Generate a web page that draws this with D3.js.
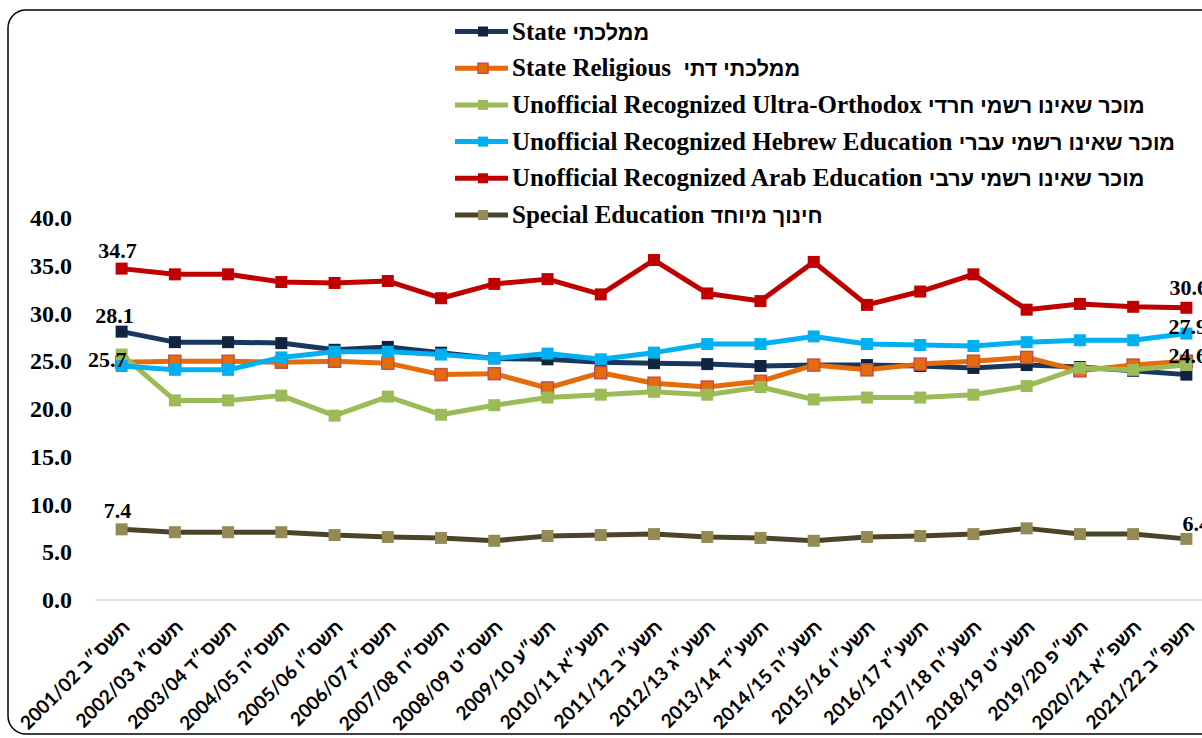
<!DOCTYPE html>
<html><head><meta charset="utf-8">
<script src="https://cdn.jsdelivr.net/npm/d3@7/dist/d3.min.js"></script>
<style>body{margin:0;background:#fff}svg{display:block}</style>
</head><body>
<svg id="c" width="1202" height="738"></svg>
<script>
const categories = ["2001/02 תשס״ב","2002/03 תשס״ג","2003/04 תשס״ד","2004/05 תשס״ה","2005/06 תשס״ו","2006/07 תשס״ז","2007/08 תשס״ח","2008/09 תשס״ט","2009/10 תש״ע","2010/11 תשע״א","2011/12 תשע״ב","2012/13 תשע״ג","2013/14 תשע״ד","2014/15 תשע״ה","2015/16 תשע״ו","2016/17 תשע״ז","2017/18 תשע״ח","2018/19  תשע״ט","2019/20 תש״פ","2020/21 תשפ״א","2021/22 תשפ״ב"];
const state = [28.1,27.0,27.0,26.9,26.2,26.5,25.9,25.3,25.2,24.9,24.8,24.7,24.5,24.6,24.6,24.5,24.3,24.6,24.4,24.0,23.6];
const stateReligious = [24.9,25.0,25.0,24.9,25.0,24.8,23.6,23.7,22.2,23.8,22.7,22.3,22.9,24.6,24.1,24.7,25.0,25.4,24.0,24.6,25.0];
const ultraOrthodox = [25.7,20.9,20.9,21.4,19.3,21.3,19.4,20.4,21.2,21.5,21.8,21.5,22.3,21.0,21.2,21.2,21.5,22.4,24.3,24.1,24.6];
const hebrewEdu = [24.5,24.1,24.1,25.4,26.0,26.0,25.7,25.3,25.8,25.2,25.9,26.8,26.8,27.6,26.8,26.7,26.6,27.0,27.2,27.2,27.9];
const arabEdu = [34.7,34.1,34.1,33.3,33.2,33.4,31.6,33.1,33.6,32.0,35.6,32.1,31.3,35.4,30.9,32.3,34.1,30.4,31.0,30.7,30.6];
const specialEdu = [7.4,7.1,7.1,7.1,6.8,6.6,6.5,6.2,6.7,6.8,6.9,6.6,6.5,6.2,6.6,6.7,6.9,7.5,6.9,6.9,6.4];
const yTicks = [0,5,10,15,20,25,30,35,40];
const legendEn = ["State","State Religious ","Unofficial Recognized Ultra-Orthodox","Unofficial Recognized Hebrew Education","Unofficial Recognized Arab Education","Special Education"];
const legendHe = ["ממלכתי","ממלכתי דתי","מוכר שאינו רשמי חרדי","מוכר שאינו רשמי עברי","מוכר שאינו רשמי ערבי","חינוך מיוחד"];

const series = [
  {values: state, line:"#17375e", fill:"#0f243e", stroke:"#0f243e"},
  {values: stateReligious, line:"#e46c0a", fill:"#e46c0a", stroke:"#c0504d"},
  {values: ultraOrthodox, line:"#9bbb59", fill:"#9bbb59", stroke:"#9bbb59"},
  {values: hebrewEdu, line:"#00b0f0", fill:"#00b0f0", stroke:"#00b0f0"},
  {values: arabEdu, line:"#c00000", fill:"#c00000", stroke:"#c00000"},
  {values: specialEdu, line:"#4a452a", fill:"#948a54", stroke:"#948a54"}
];
// data labels: [series index, point index, dx, dy, anchor]
const dataLabels = [[4,0,-4,-11,"middle"],[0,0,-7,-9,"middle"],[2,0,5,12,"end"],[5,0,-4,-11,"middle"],
                    [4,20,-17,-13,"start"],[3,20,-18,0,"start"],[2,20,-18,-2,"start"],[5,20,-4,-8,"start"]];

const svg = d3.select("#c");
const serif = "'Liberation Serif','Times New Roman',serif";
const sans = "'Liberation Sans',Arial,sans-serif";

svg.append("rect").attr("x",8).attr("y",10).attr("width",1220).attr("height",724)
  .attr("rx",18).attr("fill","none").attr("stroke","#000").attr("stroke-width",1.5);

const x = d3.scalePoint().domain(categories).range([95,1213]).padding(0.5);
const y = d3.scaleLinear().domain([0,40]).range([600,218]);

// zero gridline
svg.append("line").attr("x1",95).attr("x2",1213).attr("y1",y(0)).attr("y2",y(0))
  .attr("stroke","#d9d9d9").attr("stroke-width",1.5);

// y axis labels
const yAxis = d3.axisLeft(y).tickValues(yTicks).tickFormat(d3.format(".1f")).tickSize(0).tickPadding(0);
const yg = svg.append("g").attr("transform","translate(72,0)").call(yAxis);
yg.select(".domain").remove();
yg.selectAll("text").attr("font-family",serif).attr("font-weight","bold").attr("font-size",24).attr("fill","#000");

// x axis labels
const xAxis = d3.axisBottom(x).tickSize(0).tickPadding(0);
const xg = svg.append("g").attr("transform","translate(0,628)").call(xAxis);
xg.select(".domain").remove();
xg.selectAll("text").attr("font-family","Lato,'Liberation Sans',sans-serif").attr("font-weight","bold")
  .attr("font-size",19).attr("fill","#000").attr("text-anchor","end")
  .attr("dy",0).attr("y",0).attr("x",0)
  .attr("transform","translate(9,0) rotate(-45)");

const line = d3.line().x((d,i)=>x(categories[i])).y(d=>y(d));
const lg = svg.append("g");
series.forEach(s=>{
  const g = lg.append("g");
  g.append("path").datum(s.values).attr("d",line).attr("fill","none")
    .attr("stroke",s.line).attr("stroke-width",5).attr("stroke-linejoin","round");
  g.selectAll("rect").data(s.values).join("rect")
    .attr("x",(d,i)=>x(categories[i])-6).attr("y",d=>y(d)-6)
    .attr("width",12).attr("height",12).attr("fill",s.fill)
    .attr("stroke",s.stroke).attr("stroke-width",s.stroke===s.fill?0:1.5);
});

// data labels
svg.append("g").selectAll("text").data(dataLabels).join("text")
  .attr("x",d=>x(categories[d[1]])+d[2])
  .attr("y",d=>y(series[d[0]].values[d[1]])+d[3])
  .attr("text-anchor",d=>d[4])
  .attr("font-family",serif).attr("font-weight","bold").attr("font-size",22).attr("fill","#000")
  .text(d=>d3.format(".1f")(series[d[0]].values[d[1]]));

// legend
const leg = svg.append("g");
series.forEach((s,i)=>{
  const cy = 31.5 + i*36.7;
  leg.append("line").attr("x1",455).attr("x2",508).attr("y1",cy).attr("y2",cy)
    .attr("stroke",s.line).attr("stroke-width",5);
  leg.append("rect").attr("x",478).attr("y",cy-5).attr("width",10).attr("height",10)
    .attr("fill",s.fill).attr("stroke",s.stroke).attr("stroke-width",s.stroke===s.fill?0:1.5);
  const t = leg.append("text").attr("x",512).attr("y",cy+8).attr("font-weight","bold")
    .attr("font-size",25).attr("fill","#000").attr("xml:space","preserve");
  t.append("tspan").attr("font-family",serif).text(legendEn[i]+" ");
  t.append("tspan").attr("font-family",sans).attr("font-size",21.5).text(legendHe[i]);
});
</script>
</body></html>
